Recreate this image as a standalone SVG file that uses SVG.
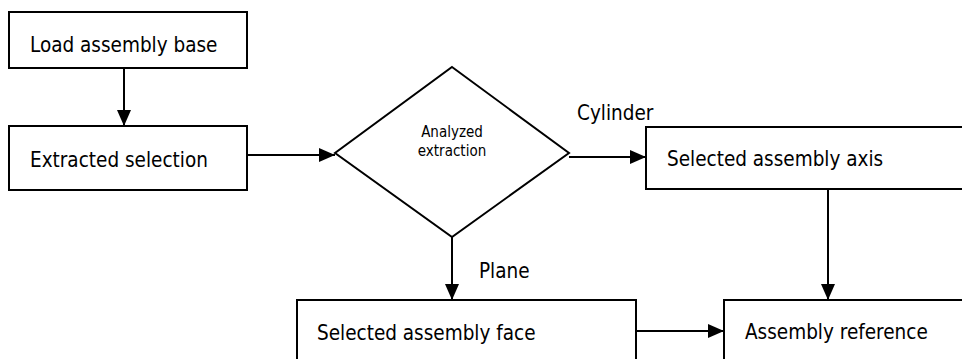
<svg xmlns="http://www.w3.org/2000/svg" width="962" height="359" viewBox="0 0 962 359">
  <style>
    .box { fill: #ffffff; stroke: #000000; stroke-width: 2; }
    .lbl { font-family: "DejaVu Sans Condensed", "DejaVu Sans", Verdana, sans-serif; font-stretch: condensed; font-size: 20.5px; fill: #000000; }
    .small { font-family: "DejaVu Sans Condensed", "DejaVu Sans", Verdana, sans-serif; font-stretch: condensed; font-size: 15px; fill: #000000; text-anchor: middle; }
    .edge { fill: none; stroke: #000000; stroke-width: 2; }
  </style>
  <defs>
    <marker id="arrow" viewBox="0 0 16 14" refX="16" refY="7" markerWidth="16" markerHeight="14" markerUnits="userSpaceOnUse" orient="auto">
      <path d="M0,0 L16,7 L0,14 Z" fill="#000000"/>
    </marker>
  </defs>
  <rect width="962" height="359" fill="#ffffff"/>

  <g id="load-base">
    <rect class="box" x="9" y="12" width="238" height="56"/>
    <text class="lbl" x="30" y="52">Load assembly base</text>
  </g>

  <g id="extracted-selection">
    <rect class="box" x="9" y="126" width="238" height="64"/>
    <text class="lbl" x="30" y="167">Extracted selection</text>
  </g>

  <g id="analyzed-extraction">
    <polygon class="box" points="452,67 569,153 452,237 335,153"/>
    <text class="small" x="452" y="137">Analyzed</text>
    <text class="small" x="452" y="156">extraction</text>
  </g>

  <g id="assembly-axis">
    <rect class="box" x="646" y="127" width="330" height="62"/>
    <text class="lbl" x="667" y="166">Selected assembly axis</text>
  </g>

  <g id="assembly-face">
    <rect class="box" x="297" y="300" width="339" height="70"/>
    <text class="lbl" x="317" y="340">Selected assembly face</text>
  </g>

  <g id="assembly-reference">
    <rect class="box" x="724" y="300" width="260" height="70"/>
    <text class="lbl" x="745" y="339">Assembly reference</text>
  </g>

  <g id="connectors">
    <line class="edge" x1="124" y1="68" x2="124" y2="126" marker-end="url(#arrow)"/>
    <line class="edge" x1="247" y1="155" x2="335" y2="155" marker-end="url(#arrow)"/>
    <line class="edge" x1="569" y1="157" x2="646" y2="157" marker-end="url(#arrow)"/>
    <text class="lbl" x="577" y="120">Cylinder</text>
    <line class="edge" x1="452" y1="237" x2="452" y2="300" marker-end="url(#arrow)"/>
    <text class="lbl" x="479" y="278">Plane</text>
    <line class="edge" x1="828" y1="189" x2="828" y2="300" marker-end="url(#arrow)"/>
    <line class="edge" x1="636" y1="331" x2="724" y2="331" marker-end="url(#arrow)"/>
  </g>
</svg>
